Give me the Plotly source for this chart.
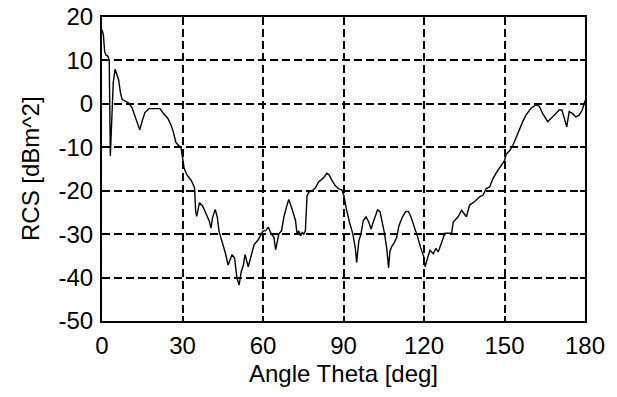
import plotly.graph_objects as go

theta = [0, 0.5, 1.0, 1.5, 2.2, 2.7, 3.1, 3.7, 4.2, 4.9, 5.5, 6.2, 6.9, 7.5, 8.7, 10, 11.2, 12.5, 13.4, 14.1,
         15, 16, 17.5, 21.6, 23.1, 24.4, 25.6, 26.6, 27.5, 28.4, 29.4, 30.0, 30.6, 31.5, 33.3, 34.5, 34.9, 35.3,
         36.3, 37.5, 38.7, 40, 40.6, 41.2, 42.2, 43, 43.6, 44.8, 46, 47, 47.9, 48.5, 49.4, 50.3, 51.1, 51.9,
         52.7, 53.3, 54.5, 55.8, 56.7, 58.2, 60, 61, 62, 62.8, 64.1, 64.7, 65.3, 65.9, 66.9, 67.8, 69, 69.6,
         70.9, 72.1, 72.7, 73.3, 74, 74.6, 75.2, 75.8, 76.4, 77, 78.3, 79.5, 80.7, 82.6, 83.8, 84.7, 85.7,
         86.9, 88.2, 89.4, 90.2, 91, 92.2, 93.5, 94.4, 94.9, 95.7, 96.5, 97.4, 98.4, 99.4, 100.3, 101.1,
         101.9, 102.7, 103.6, 104.3, 105.2, 106.1, 106.8, 107.3, 108, 108.9, 109.8, 110.7, 112, 113.2, 114.2,
         115.1, 116.3, 117.5, 118.8, 119.8, 120.4, 121.2, 122.2, 123.5, 124.4, 125.3, 126.5, 127.8, 130.3,
         130.9, 132.7, 134, 135.8, 137, 138.9, 140.7, 142, 143.2, 144.5, 145.7, 147.2, 148.4, 150, 150.6,
         151.9, 153.1, 154.3, 155.6, 156.8, 158, 159.9, 161.7, 163, 164.2, 166.1, 167.3, 169.1, 170.4, 171.4,
         172.2, 173.2, 174.1, 175.3, 176.6, 177.8, 179, 180]

rcs_db = [17, 16, 12, 11.2, 11, 10, -12, 0, 5, 8, 7, 5.5, 2.5, 1, 0.6, 0.2, -0.9, -3.2, -5, -6,
          -3.9, -2, -1.1, -1.1, -2.4, -3.2, -4.7, -6.5, -8.8, -9.5, -9.9, -12.9, -14.8, -16.2, -17.7, -19.3, -24.7, -25.9,
          -22.8, -23.5, -25.1, -27, -28.6, -26.2, -24.3, -26.2, -29.3, -31.7, -34.4, -37.1, -35.9, -34.7, -35.5, -40.2, -41.7, -38.6,
          -37.1, -34.7, -37.5, -34.4, -32.4, -31.3, -29.3, -29.2, -28.4, -29.6, -30.8, -33.6, -32, -30, -29.2, -26, -23.2, -22,
          -24.4, -26.8, -30, -29.2, -30.4, -29.6, -30, -29.2, -21.2, -20.4, -20, -19.4, -18, -17, -16, -16.4, -17.6,
          -18.8, -19.6, -19.8, -21.2, -24, -27.2, -30, -33.2, -36.5, -31.6, -30, -26.8, -26, -27.2, -28.8, -27.2,
          -25.6, -24.4, -24.8, -26.8, -29.6, -33.2, -37.8, -34, -32.8, -32, -30.8, -28, -26, -24.8, -24.8,
          -26, -28, -30.4, -33.2, -35, -37.5, -35.5, -33.7, -34.5, -33.3, -34.1, -32.2, -29.8, -29.8,
          -27.2, -26, -24.5, -26, -23.3, -22.5, -21.4, -21, -19.5, -19.1, -17.2, -15.6, -14.5, -13.1, -11.6,
          -10.8, -9.6, -7.7, -5.7, -4.1, -2.6, -1, -0.2, -0.6, -2.2, -4.1, -3.4, -2.2, -1.4, -1.4,
          -3, -5.3, -1.8, -2.2, -3, -2.6, -1.4, 0.8]

x_ticks = [0, 30, 60, 90, 120, 150, 180]
y_ticks = [-50, -40, -30, -20, -10, 0, 10, 20]
x_title = "Angle Theta [deg]"
y_title = "RCS [dBm^2]"

fig = go.Figure()
fig.add_trace(go.Scatter(x=theta, y=rcs_db, mode="lines",
                         line=dict(color="black", width=1.4), showlegend=False))

font = dict(family="Liberation Sans, Arial, sans-serif", size=24, color="black")

axis_common = dict(
    showline=True, linecolor="black", linewidth=2, mirror="ticks",
    ticks="inside", ticklen=5, tickcolor="black", tickwidth=1.5,
    showgrid=True, gridcolor="black", gridwidth=1.5, griddash="8px,4px",
    zeroline=False, tickfont=font, automargin=False,
)

fig.update_xaxes(range=[0, 180], tickvals=x_ticks, ticktext=[str(v) for v in x_ticks],
                 ticklabelstandoff=2, **axis_common)
fig.update_yaxes(range=[-50, 20], tickvals=y_ticks, ticktext=[str(v) for v in y_ticks],
                 ticklabelstandoff=2, **axis_common)

fig.add_annotation(text=x_title, xref="paper", yref="paper", x=0.5, y=0,
                   xanchor="center", yanchor="middle", yshift=-52,
                   showarrow=False, font=font)
fig.add_annotation(text=y_title, xref="paper", yref="paper", x=0, y=0.5,
                   xanchor="center", yanchor="middle", xshift=-72, textangle=-90,
                   showarrow=False, font=font)

fig.update_layout(
    width=617, height=397,
    margin=dict(l=102, r=32, t=17, b=76),
    paper_bgcolor="white", plot_bgcolor="white",
    font=font,
)

fig.write_html("out.html", config={"displayModeBar": False},
               post_script="document.body.style.margin='0px';document.body.style.overflow='hidden';")
